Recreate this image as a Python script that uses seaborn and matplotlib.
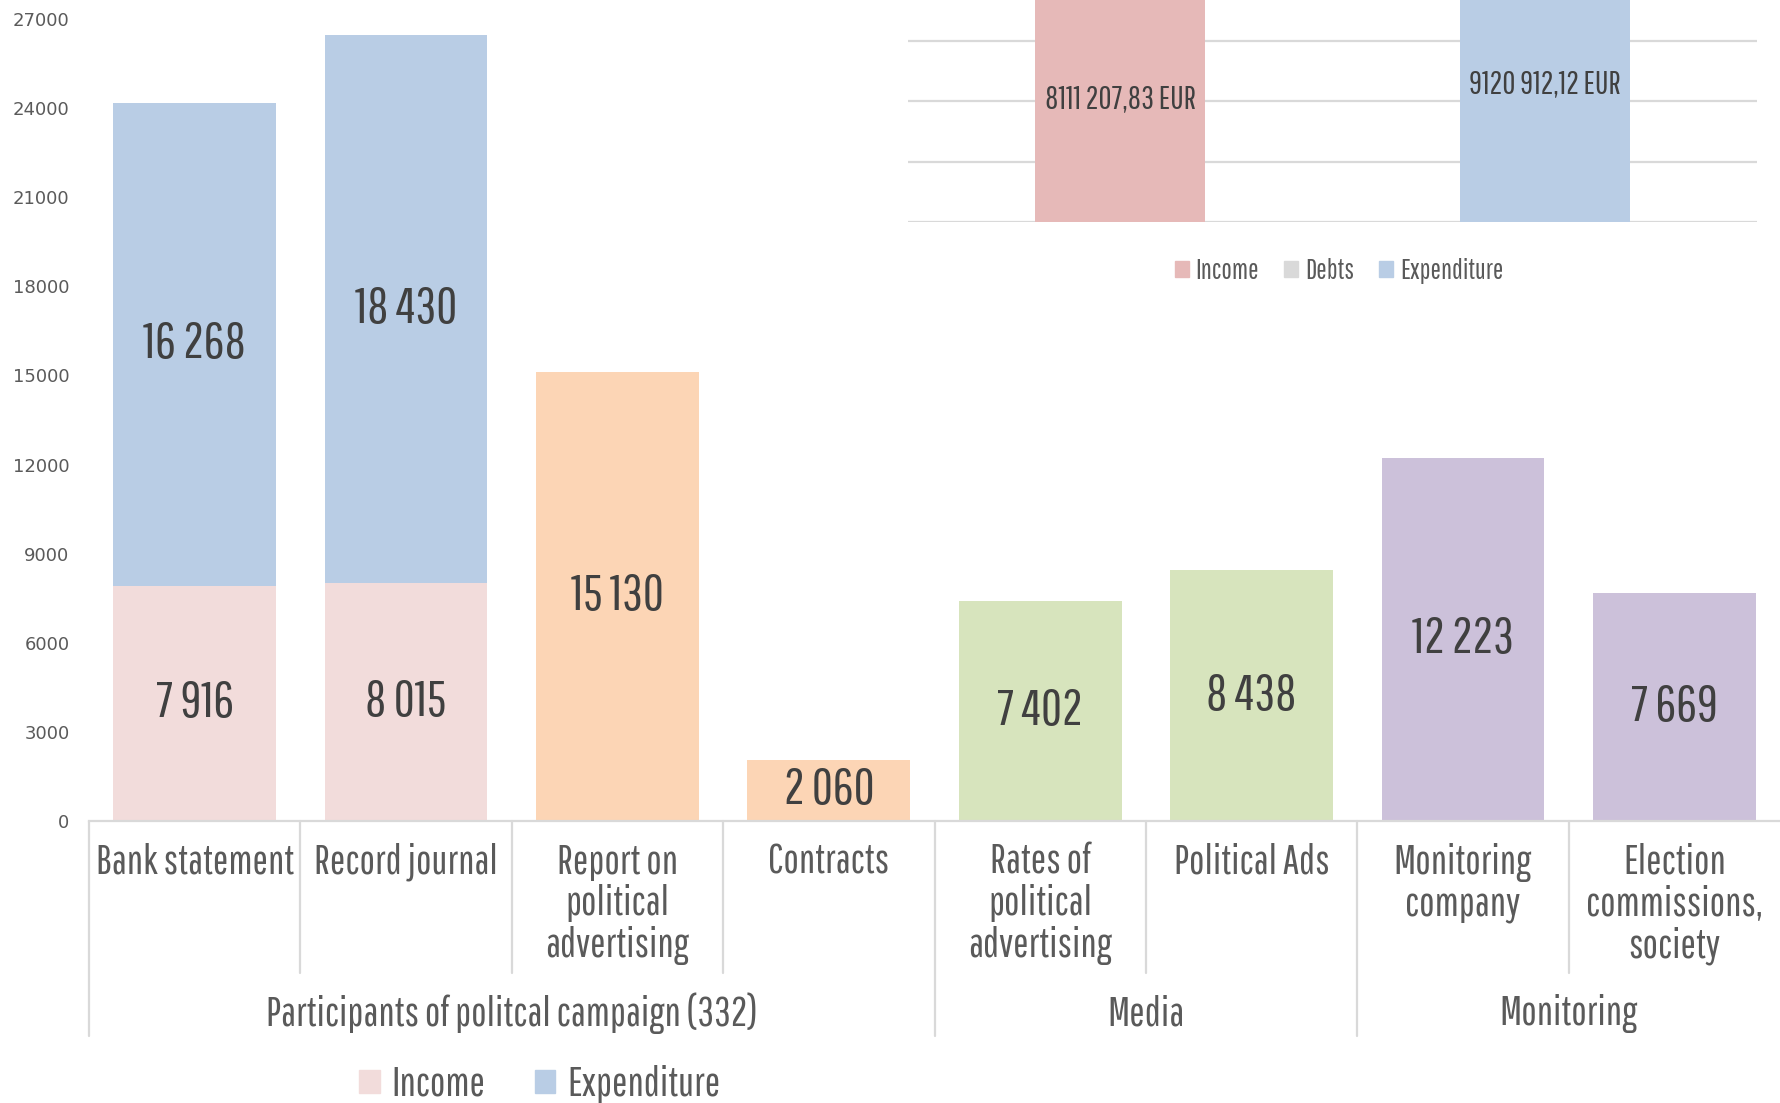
import numpy as np
import pandas as pd
from matplotlib import pyplot as plt
from matplotlib import font_manager
from matplotlib.patches import Patch
import seaborn as sns

# data
cats = ['Bank statement', 'Record journal', 'Report on\npolitical\nadvertising', 'Contracts',
        'Rates of\npolitical\nadvertising', 'Political Ads', 'Monitoring\ncompany',
        'Election\ncommissions,\nsociety']
groups = ['Participants of politcal campaign (332)', 'Media', 'Monitoring']
group_size = [4, 2, 2]
income = [7916, 8015]
expenditure = [16268, 18430]
single_vals = [15130, 2060, 7402, 8438, 12223, 7669]

inset_cats = ['Income', 'Debts', 'Expenditure']
inset_vals = [8111207.83, 0, 9120912.12]
inset_text = ['8111 207,83 EUR', '', '9120 912,12 EUR']

pink = '#f2dcdb'
blue = '#b9cde5'
top_colors = [blue, blue, '#fcd5b5', '#fcd5b5', '#d7e4bd', '#d7e4bd', '#ccc1da', '#ccc1da']
inset_colors = ['#e6b9b8', '#d9d9d9', '#b9cde5']
txt = '#404040'
gray = '#5a5a5a'
line = '#d9d9d9'

sns.set_style('white')
names = {f.name for f in font_manager.fontManager.ttflist}
cond = [n for n in ['Pathway Gothic One', 'Liberation Sans Narrow'] if n in names]
plt.rcParams['font.family'] = cond + ['DejaVu Sans']

big = 37
med = 29.5
small = 20

totals = [a + b for a, b in zip(income, expenditure)] + single_vals
df_top = pd.DataFrame({'cat': cats, 'val': totals})
df_inc = pd.DataFrame({'cat': cats[:2], 'val': income})

fig = plt.figure(figsize=(17.8, 11.03), dpi=100)
ax = fig.add_axes([89/1780, 282/1103, 1 - 89/1780, (821-19)/1103])

sns.barplot(data=df_top, x='cat', y='val', hue='cat', palette=top_colors, order=cats,
            width=0.77, saturation=1, legend=False, ax=ax, linewidth=0)
sns.barplot(data=df_inc, x='cat', y='val', color=pink, order=cats,
            width=0.77, saturation=1, ax=ax, linewidth=0)

ax.set_xlim(-0.5, len(cats) - 0.5)
ax.set_ylim(0, 27000)
ax.set_yticks(np.arange(0, 27001, 3000))
ax.set_yticklabels([str(v) for v in range(0, 27001, 3000)], family='DejaVu Sans',
                   fontsize=13, color=gray)
ax.tick_params(axis='y', length=0, pad=14)
ax.set_xticks([])
ax.set_xlabel('')
ax.set_ylabel('')
for s in ['top', 'right', 'left']:
    ax.spines[s].set_visible(False)
ax.spines['bottom'].set_color(line)
ax.spines['bottom'].set_linewidth(1.6)

fmt = lambda v: f'{v:,}'.replace(',', ' ')
for i in range(2):
    ax.text(i, income[i] / 2, fmt(income[i]), ha='center', va='center', fontsize=big, color=txt)
    ax.text(i, income[i] + expenditure[i] / 2, fmt(expenditure[i]), ha='center', va='center',
            fontsize=big, color=txt)
for j, v in enumerate(single_vals):
    ax.text(j + 2, v / 2, fmt(v), ha='center', va='center', fontsize=big, color=txt)

# category axis
tr = ax.get_xaxis_transform()
for i, c in enumerate(cats):
    ax.text(i, -0.027, c, transform=tr, ha='center', va='top', fontsize=med, color=gray,
            linespacing=1.12)
bounds = np.cumsum([0] + group_size)
for k in range(len(cats)):
    long = k in bounds
    ax.plot([k - 0.5, k - 0.5], [0, -0.268 if long else -0.1895], transform=tr,
            color=line, lw=1.6, clip_on=False)
for g, name in enumerate(groups):
    mid = (bounds[g] + bounds[g + 1]) / 2 - 0.5
    ax.text(mid, -0.2395, name, transform=tr, ha='center', va='center', fontsize=med, color=gray)

leg = fig.legend([Patch(color=pink), Patch(color=blue)], ['Income', 'Expenditure'],
                 loc='center', bbox_to_anchor=(540/1780, 1 - 1084/1103), ncol=2, frameon=False,
                 fontsize=med, handlelength=0.5, handleheight=0.5, handletextpad=0.3,
                 columnspacing=1.2)
for t in leg.get_texts():
    t.set_color(gray)

# inset
ax2 = fig.add_axes([908/1780, 1 - 222/1103, (1757-908)/1780, 222/1103])
ax2.set_facecolor('none')
df_in = pd.DataFrame({'cat': inset_cats, 'val': inset_vals})
sns.barplot(data=df_in, x='cat', y='val', hue='cat', palette=inset_colors, order=inset_cats,
            width=0.8, saturation=1, legend=False, ax=ax2, zorder=3, linewidth=0)
ax2.set_xlim(-1, 3)
ax2.set_ylim(0, 7.34e6)
for y in [0, 2e6, 4e6, 6e6]:
    ax2.axhline(y, color=line, lw=1.6, zorder=1)
for i, v in enumerate(inset_vals):
    if v > 0:
        ax2.text(i, v / 2, inset_text[i], ha='center', va='center', fontsize=23, color=txt,
                 zorder=4, clip_on=False)
ax2.axis('off')
leg2 = fig.legend([Patch(color=c) for c in inset_colors], inset_cats, loc='center',
                  bbox_to_anchor=(1339/1780, 1 - 271/1103), ncol=3, frameon=False, fontsize=small,
                  handlelength=0.5, handleheight=0.5, handletextpad=0.25, columnspacing=0.9)
for t in leg2.get_texts():
    t.set_color(gray)

fig.savefig('out.png', dpi=100)
